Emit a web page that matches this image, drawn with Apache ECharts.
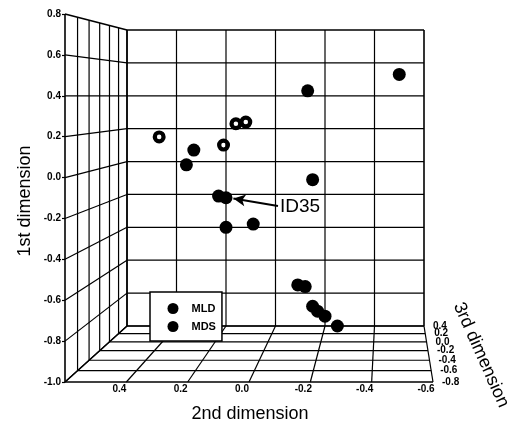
<!DOCTYPE html>
<html><head><meta charset="utf-8">
<script src="https://cdn.jsdelivr.net/npm/echarts@6/dist/echarts.min.js"></script>
<style>html,body{margin:0;padding:0;background:#fff}#c{width:519px;height:427px}</style>
</head><body><div id="c"></div>
<script>
// ---- data ----
const dim1Ticks = [-1.0, -0.8, -0.6, -0.4, -0.2, 0.0, 0.2, 0.4, 0.6, 0.8];   // 1st dimension
const dim2Ticks = [0.6, 0.4, 0.2, 0.0, -0.2, -0.4, -0.6];                  // 2nd dimension
const dim3Ticks = [0.4, 0.2, 0.0, -0.2, -0.4, -0.6, -0.8];                  // 3rd dimension
const seriesNames = ['MLD', 'MDS'];
// points as [2nd dimension, 1st dimension] on the back plane
const mldPoints = [[0.47, 0.15], [0.21, 0.10], [0.16, 0.23], [0.12, 0.24]];
const mdsPoints = [[0.33, 0.07], [0.36, -0.02], [-0.13, 0.43], [-0.50, 0.53], [-0.15, -0.11],
  [0.23, -0.21], [0.20, -0.22], [0.20, -0.40], [0.09, -0.38], [-0.09, -0.75], [-0.12, -0.76],
  [-0.15, -0.88], [-0.17, -0.91], [-0.20, -0.94], [-0.25, -1.0]];
const annotationText = 'ID35';
const annotationFrom = [-0.01, -0.27];
const annotationTo = [0.17, -0.224];

const FONT = '"Liberation Sans", Arial, sans-serif';
const RING = 'path://M0,-10A10,10 0 1,1 0,10A10,10 0 1,1 0,-10Z M0,-3.5A3.5,3.5 0 1,0 0,3.5A3.5,3.5 0 1,0 0,-3.5Z';
const chart = echarts.init(document.getElementById('c'), null, {renderer: 'canvas'});
const fmt = v => (Math.abs(v) < 1e-9 ? 0 : v).toFixed(1);

chart.setOption({
  animation: false,
  backgroundColor: '#fff',
  grid: [
    {left: 127, right: 95, top: 30, bottom: 101, show: false, containLabel: false, outerBoundsMode: 'none'},
    {left: 65, right: 86, top: 14, bottom: 45, show: false, containLabel: false, outerBoundsMode: 'none'}
  ],
  xAxis: [
    {gridIndex: 0, type: 'value', inverse: true, min: -0.6, max: 0.6, interval: 0.2,
     axisLine: {show: false, onZero: false}, axisTick: {show: false}, axisLabel: {show: false}, splitLine: {show: false}},
    {gridIndex: 1, type: 'value', inverse: true, min: -0.6, max: 0.6, interval: 0.2, position: 'bottom',
     axisLine: {show: false, onZero: false}, axisTick: {show: false}, splitLine: {show: false},
     axisLabel: {show: true, showMinLabel: true, showMaxLabel: true, margin: 2,
       fontFamily: FONT, fontSize: 10, fontWeight: 'bold', color: '#000', padding: [0, 14, 0, 0],
       formatter: v => (v > 0.55 ? '' : fmt(v))}}
  ],
  yAxis: [
    {gridIndex: 0, type: 'value', min: -1.0, max: 0.8, interval: 0.2,
     axisLine: {show: false, onZero: false}, axisTick: {show: false}, axisLabel: {show: false}, splitLine: {show: false}},
    {gridIndex: 1, type: 'value', min: -1.0, max: 0.8, interval: 0.2, position: 'left',
     axisLine: {show: false, onZero: false}, splitLine: {show: false},
     axisTick: {show: true, length: 3, lineStyle: {color: '#000', width: 1.2}},
     axisLabel: {show: true, showMinLabel: true, showMaxLabel: true, margin: 4,
       fontFamily: FONT, fontSize: 10, fontWeight: 'bold', color: '#000', formatter: fmt}}
  ],
  legend: {
    orient: 'vertical', left: 150, top: 292, itemWidth: 27, itemHeight: 11, itemGap: 7,
    padding: [11, 6, 9, 17.5], backgroundColor: '#fff', borderColor: '#000', borderWidth: 1.5,
    borderRadius: 0, selectedMode: false,
    textStyle: {fontFamily: FONT, fontSize: 11, fontWeight: 'bold', color: '#000'},
    data: seriesNames.map(n => ({name: n, icon: 'circle', itemStyle: {color: '#000', borderWidth: 0}}))
  },
  series: [
    {name: seriesNames[0], type: 'scatter', xAxisIndex: 0, yAxisIndex: 0, clip: false, z: 5,
     symbol: RING, symbolSize: 13, itemStyle: {color: '#000', opacity: 1},
     data: mldPoints},
    {name: seriesNames[1], type: 'scatter', xAxisIndex: 0, yAxisIndex: 0, clip: false, z: 5,
     symbol: 'circle', symbolSize: 13, itemStyle: {color: '#000', opacity: 1},
     data: mdsPoints,
     markLine: {silent: true, animation: false, symbolSize: [9, 12],
       lineStyle: {color: '#000', width: 2, type: 'solid'},
       label: {show: true, position: 'start', formatter: annotationText, distance: 2,
         padding: [6, 0, 0, 0], fontFamily: FONT, fontSize: 19, color: '#000'},
       data: [[{coord: annotationFrom, symbol: 'none'}, {coord: annotationTo, symbol: 'arrow'}]]}}
  ]
});

// ---- 3D box, projected between the back plane (grid 0) and the front plane (grid 1)
const Z_FRONT = -0.8, Z_BACK = 0.4, K = 1.27;
function depth(z) { const w = (z - Z_FRONT) / (Z_BACK - Z_FRONT); return w * K / (1 + w * (K - 1)); }
function proj(d2, d1, z) {
  const F = chart.convertToPixel({gridIndex: 1}, [d2, d1]);
  const B = chart.convertToPixel({gridIndex: 0}, [d2, d1]);
  const f = depth(z);
  return [F[0] + (B[0] - F[0]) * f, F[1] + (B[1] - F[1]) * f];
}
const d2L = dim2Ticks[0], d2R = dim2Ticks[dim2Ticks.length - 1];
const d1B = dim1Ticks[0], d1T = dim1Ticks[dim1Ticks.length - 1];
const g = [];
function seg(a, b, w) {
  g.push({type: 'line', z: 1, silent: true, shape: {x1: a[0], y1: a[1], x2: b[0], y2: b[1]},
          style: {stroke: '#000', lineWidth: w || 1.2}});
}
// back wall
dim1Ticks.forEach(v => seg(proj(d2L, v, Z_BACK), proj(d2R, v, Z_BACK), (v === d1T || v === d1B) ? 1.6 : 1.2));
dim2Ticks.forEach(d => seg(proj(d, d1B, Z_BACK), proj(d, d1T, Z_BACK), (d === d2L || d === d2R) ? 1.6 : 1.2));
// left wall
dim1Ticks.forEach(v => seg(proj(d2L, v, Z_FRONT), proj(d2L, v, Z_BACK), v === d1T ? 1.6 : 1.2));
dim3Ticks.forEach(z => seg(proj(d2L, d1B, z), proj(d2L, d1T, z), z === Z_FRONT ? 1.6 : 1.2));
// floor
dim3Ticks.forEach(z => seg(proj(d2L, d1B, z), proj(d2R, d1B, z), z === Z_FRONT ? 1.6 : 1.2));
dim2Ticks.forEach(d => seg(proj(d, d1B, Z_FRONT), proj(d, d1B, Z_BACK), 1.2));
// 3rd dimension tick labels
dim3Ticks.forEach(z => {
  const p = proj(d2R, d1B, z);
  g.push({type: 'text', z: 2, silent: true, x: p[0] + 9, y: p[1],
    style: {text: fmt(z), font: 'bold 10px ' + FONT, fill: '#000', textAlign: 'left', textVerticalAlign: 'middle'}});
});
// axis titles
g.push({type: 'text', z: 2, silent: true, x: 25, y: 201, rotation: Math.PI / 2,
  style: {text: '1st dimension', font: '18px ' + FONT, fill: '#000', textAlign: 'center', textVerticalAlign: 'middle'}});
g.push({type: 'text', z: 2, silent: true, x: 250, y: 414,
  style: {text: '2nd dimension', font: '18px ' + FONT, fill: '#000', textAlign: 'center', textVerticalAlign: 'middle'}});
g.push({type: 'text', z: 2, silent: true, x: 481, y: 355, rotation: -66 * Math.PI / 180,
  style: {text: '3rd dimension', font: '18px ' + FONT, fill: '#000', textAlign: 'center', textVerticalAlign: 'middle'}});
chart.setOption({graphic: g});
</script>
</body></html>
